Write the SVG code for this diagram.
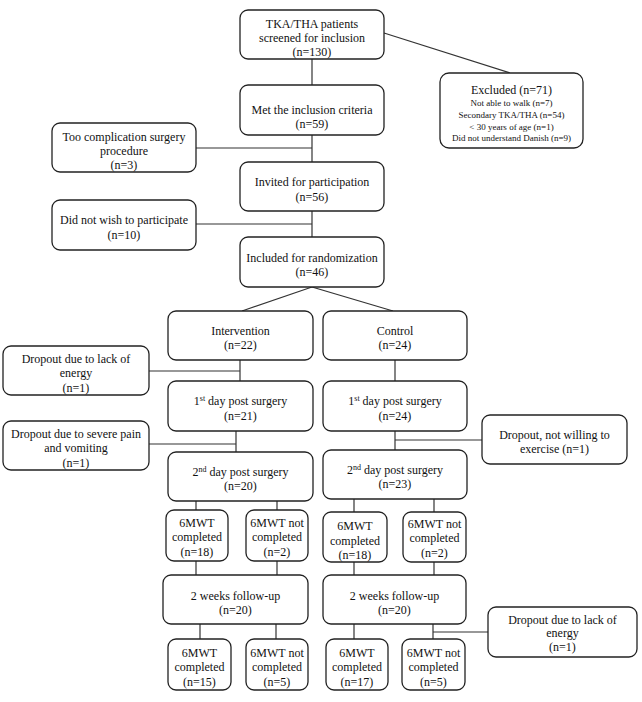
<svg xmlns="http://www.w3.org/2000/svg" width="642" height="702" viewBox="0 0 642 702">
<style>
rect{fill:#fff;stroke:#222;stroke-width:1.3}
text{font-family:'Liberation Serif',Tinos,'Times New Roman','Noto Serif','DejaVu Serif',serif;font-size:12px;fill:#111;text-anchor:middle}
.s{font-size:9px}
.sup{font-size:8px}
#connectors line{stroke:#333;stroke-width:1.2}
</style>
<rect x="0" y="0" width="642" height="702" style="fill:#fff;stroke:none"/>
<g id="connectors">
<line x1="312" y1="59" x2="312" y2="85"/>
<line x1="384" y1="33" x2="510" y2="73"/>
<line x1="312" y1="135" x2="312" y2="162"/>
<line x1="196" y1="148" x2="312" y2="148"/>
<line x1="312" y1="211" x2="312" y2="237"/>
<line x1="196" y1="224" x2="312" y2="224"/>
<line x1="312" y1="287" x2="242" y2="311"/>
<line x1="312" y1="287" x2="393" y2="311"/>
<line x1="240" y1="360" x2="240" y2="381"/>
<line x1="149" y1="371" x2="240" y2="371"/>
<line x1="395" y1="360" x2="395" y2="381"/>
<line x1="236" y1="431" x2="236" y2="452"/>
<line x1="149" y1="444" x2="236" y2="444"/>
<line x1="395" y1="431" x2="395" y2="451"/>
<line x1="395" y1="440" x2="482" y2="440"/>
<line x1="196" y1="501" x2="196" y2="510"/>
<line x1="277" y1="501" x2="277" y2="510"/>
<line x1="354" y1="499" x2="354" y2="512"/>
<line x1="434" y1="499" x2="434" y2="512"/>
<line x1="196" y1="561" x2="196" y2="575"/>
<line x1="277" y1="561" x2="277" y2="575"/>
<line x1="354" y1="562" x2="354" y2="575"/>
<line x1="434" y1="562" x2="434" y2="575"/>
<line x1="200" y1="624" x2="200" y2="639"/>
<line x1="276" y1="624" x2="276" y2="639"/>
<line x1="354" y1="624" x2="354" y2="639"/>
<line x1="433" y1="624" x2="433" y2="639"/>
<line x1="433" y1="632" x2="488" y2="632"/>
</g>
<g id="screened"><rect x="240" y="10" width="144" height="49" rx="8"/>
<text x="312" y="28">TKA/THA patients</text><text x="312" y="42">screened for inclusion</text><text x="312" y="56">(n=130)</text></g>
<g id="excluded"><rect x="440" y="73" width="143" height="75" rx="9"/>
<text x="511.5" y="94">Excluded (n=71)</text>
<text class="s" x="511.5" y="106">Not able to walk (n=7)</text>
<text class="s" x="511.5" y="118">Secondary TKA/THA (n=54)</text>
<text class="s" x="511.5" y="130">&lt; 30 years of age (n=1)</text>
<text class="s" x="511.5" y="141">Did not understand Danish (n=9)</text></g>
<g id="met"><rect x="240" y="85" width="144" height="50" rx="8"/>
<text x="312" y="114">Met the inclusion criteria</text><text x="312" y="128">(n=59)</text></g>
<g id="toocomp"><rect x="52" y="123" width="144" height="49" rx="8"/>
<text x="124" y="141">Too complication surgery</text><text x="124" y="155">procedure</text><text x="124" y="169">(n=3)</text></g>
<g id="invited"><rect x="240" y="162" width="144" height="49" rx="8"/>
<text x="312" y="186">Invited for participation</text><text x="312" y="201">(n=56)</text></g>
<g id="notwish"><rect x="52" y="200" width="144" height="50" rx="8"/>
<text x="124" y="224">Did not wish to participate</text><text x="124" y="239">(n=10)</text></g>
<g id="included"><rect x="240" y="237" width="144" height="50" rx="8"/>
<text x="312" y="262">Included for randomization</text><text x="312" y="276">(n=46)</text></g>
<g id="intervention"><rect x="168" y="311" width="145" height="49" rx="8"/>
<text x="240.5" y="335">Intervention</text><text x="240.5" y="349">(n=22)</text></g>
<g id="control"><rect x="323" y="311" width="144" height="49" rx="8"/>
<text x="395" y="335">Control</text><text x="395" y="349">(n=24)</text></g>
<g id="dropout1"><rect x="3" y="346" width="146" height="49" rx="8"/>
<text x="76" y="363">Dropout due to lack of</text><text x="76" y="377">energy</text><text x="76" y="392">(n=1)</text></g>
<g id="day1int"><rect x="168" y="381" width="145" height="50" rx="8"/>
<text x="240.5" y="405">1<tspan class="sup" dy="-4">st</tspan><tspan dy="4"> day post surgery</tspan></text><text x="240.5" y="420">(n=21)</text></g>
<g id="day1ctrl"><rect x="323" y="381" width="144" height="50" rx="8"/>
<text x="395" y="405">1<tspan class="sup" dy="-4">st</tspan><tspan dy="4"> day post surgery</tspan></text><text x="395" y="420">(n=24)</text></g>
<g id="dropout2"><rect x="3" y="421" width="146" height="49" rx="8"/>
<text x="76" y="438">Dropout due to severe pain</text><text x="76" y="452">and vomiting</text><text x="76" y="467">(n=1)</text></g>
<g id="dropout3"><rect x="482" y="415" width="145" height="49" rx="8"/>
<text x="554.5" y="439">Dropout, not willing to</text><text x="554.5" y="453">exercise (n=1)</text></g>
<g id="day2int"><rect x="168" y="452" width="145" height="49" rx="8"/>
<text x="240.5" y="476">2<tspan class="sup" dy="-4">nd</tspan><tspan dy="4"> day post surgery</tspan></text><text x="240.5" y="490">(n=20)</text></g>
<g id="day2ctrl"><rect x="323" y="450" width="144" height="49" rx="8"/>
<text x="395" y="474">2<tspan class="sup" dy="-4">nd</tspan><tspan dy="4"> day post surgery</tspan></text><text x="395" y="488">(n=23)</text></g>
<g id="w1a"><rect x="166" y="510" width="62" height="51" rx="8"/>
<text x="197" y="527">6MWT</text><text x="197" y="541">completed</text><text x="197" y="556">(n=18)</text></g>
<g id="w1b"><rect x="246" y="510" width="62" height="51" rx="8"/>
<text x="277" y="527">6MWT not</text><text x="277" y="541">completed</text><text x="277" y="556">(n=2)</text></g>
<g id="w1c"><rect x="323" y="512" width="64" height="50" rx="8"/>
<text x="355" y="530">6MWT</text><text x="355" y="545">completed</text><text x="355" y="559">(n=18)</text></g>
<g id="w1d"><rect x="403" y="512" width="63" height="50" rx="8"/>
<text x="434.5" y="528">6MWT not</text><text x="434.5" y="542">completed</text><text x="434.5" y="557">(n=2)</text></g>
<g id="fuint"><rect x="163" y="575" width="145" height="49" rx="8"/>
<text x="235.5" y="600">2 weeks follow-up</text><text x="235.5" y="614">(n=20)</text></g>
<g id="fuctrl"><rect x="323" y="575" width="143" height="49" rx="8"/>
<text x="394.5" y="600">2 weeks follow-up</text><text x="394.5" y="614">(n=20)</text></g>
<g id="dropout4"><rect x="488" y="607" width="149" height="50" rx="8"/>
<text x="562.5" y="624">Dropout due to lack of</text><text x="562.5" y="637">energy</text><text x="562.5" y="651">(n=1)</text></g>
<g id="w2a"><rect x="168" y="639" width="63" height="51" rx="8"/>
<text x="199.5" y="657">6MWT</text><text x="199.5" y="671">completed</text><text x="199.5" y="686">(n=15)</text></g>
<g id="w2b"><rect x="246" y="639" width="62" height="51" rx="8"/>
<text x="277" y="657">6MWT not</text><text x="277" y="671">completed</text><text x="277" y="686">(n=5)</text></g>
<g id="w2c"><rect x="326" y="639" width="62" height="51" rx="8"/>
<text x="357" y="657">6MWT</text><text x="357" y="671">completed</text><text x="357" y="686">(n=17)</text></g>
<g id="w2d"><rect x="402" y="639" width="63" height="51" rx="8"/>
<text x="433.5" y="657">6MWT not</text><text x="433.5" y="671">completed</text><text x="433.5" y="686">(n=5)</text></g>
</svg>
